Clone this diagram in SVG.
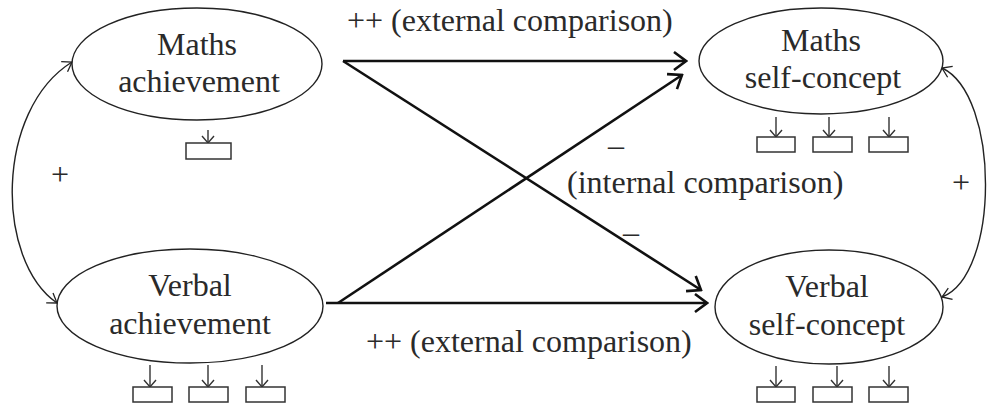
<svg xmlns="http://www.w3.org/2000/svg" width="987" height="407" viewBox="0 0 987 407">
  <defs>
    <marker id="big" viewBox="-14 -11 16 22" refX="0" refY="0" markerWidth="16" markerHeight="22" markerUnits="userSpaceOnUse" orient="auto">
      <path d="M-12,-9 L0,0 L-12,9" fill="none" stroke="#111" stroke-width="2.6" stroke-linejoin="miter"/>
    </marker>
    <marker id="thin" viewBox="-12 -8 14 16" refX="0" refY="0" markerWidth="14" markerHeight="16" markerUnits="userSpaceOnUse" orient="auto-start-reverse">
      <path d="M-9,-6 L0,0 L-9,6" fill="none" stroke="#222" stroke-width="1.3"/>
    </marker>
    <marker id="small" viewBox="-10 -8 12 16" refX="0" refY="0" markerWidth="12" markerHeight="16" markerUnits="userSpaceOnUse" orient="auto">
      <path d="M-7,-6 L0,0 L-7,6" fill="none" stroke="#333" stroke-width="1.4"/>
    </marker>
  </defs>
  <style>
    .ell { fill: #fff; stroke: #222; stroke-width: 1.4; }
    .box { fill: #fff; stroke: #333; stroke-width: 1.5; }
    .txt { font-family: "Liberation Serif", "Times New Roman", serif; font-size: 32px; fill: #2a2a2a; }
    .mid { text-anchor: middle; }
    .main { fill: none; stroke: #111; stroke-width: 2.6; marker-end: url(#big); }
    .curve { fill: none; stroke: #222; stroke-width: 1.4; marker-start: url(#thin); marker-end: url(#thin); }
    .ind { fill: none; stroke: #333; stroke-width: 1.4; marker-end: url(#small); }
  </style>
  <rect width="987" height="407" fill="#fff"/>

  <g id="connectors">
    <path class="main" d="M343,61 L686,61"/>
    <path class="main" d="M343,61 L701,290"/>
    <path class="main" d="M338,303 L682,75"/>
    <path class="main" d="M326,303 L707,303"/>
    <path class="curve" d="M72,62 C-5,110 -5,260 57,303"/>
    <path class="curve" d="M942,68 C1000,95 1000,275 942,297"/>
  </g>

  <g id="labels">
    <text class="txt" x="347" y="31">++ (external comparison)</text>
    <text class="txt" x="366" y="352">++ (external comparison)</text>
    <text class="txt" x="567" y="193">(internal comparison)</text>
    <text class="txt" x="608" y="156">–</text>
    <text class="txt" x="623" y="243">–</text>
    <text class="txt mid" x="60" y="185">+</text>
    <text class="txt mid" x="961" y="193">+</text>
  </g>

  <g id="maths-achievement">
    <ellipse class="ell" cx="197" cy="64" rx="125" ry="56"/>
    <text class="txt mid" x="197" y="55">Maths</text>
    <text class="txt mid" x="199" y="92">achievement</text>
    <path class="ind" d="M208,130 L208,143"/>
    <rect class="box" x="186" y="143" width="45" height="16"/>
  </g>

  <g id="verbal-achievement">
    <ellipse class="ell" cx="190" cy="306" rx="133" ry="57"/>
    <text class="txt mid" x="190" y="296">Verbal</text>
    <text class="txt mid" x="190" y="334">achievement</text>
    <path class="ind" d="M150,365 L150,387"/>
    <path class="ind" d="M208,365 L208,387"/>
    <path class="ind" d="M262,365 L262,387"/>
    <rect class="box" x="133" y="387" width="39" height="15"/>
    <rect class="box" x="189" y="387" width="39" height="15"/>
    <rect class="box" x="246" y="387" width="39" height="15"/>
  </g>

  <g id="maths-self-concept">
    <ellipse class="ell" cx="821" cy="61" rx="122" ry="53"/>
    <text class="txt mid" x="821" y="51">Maths</text>
    <text class="txt mid" x="823" y="88">self-concept</text>
    <path class="ind" d="M776,117 L776,137"/>
    <path class="ind" d="M829,117 L829,137"/>
    <path class="ind" d="M889,117 L889,137"/>
    <rect class="box" x="757" y="137" width="38" height="15"/>
    <rect class="box" x="813" y="137" width="39" height="15"/>
    <rect class="box" x="869" y="137" width="39" height="15"/>
  </g>

  <g id="verbal-self-concept">
    <ellipse class="ell" cx="829" cy="307" rx="114" ry="57"/>
    <text class="txt mid" x="827" y="297">Verbal</text>
    <text class="txt mid" x="827" y="335">self-concept</text>
    <path class="ind" d="M776,366 L776,387"/>
    <path class="ind" d="M837,366 L837,387"/>
    <path class="ind" d="M889,366 L889,387"/>
    <rect class="box" x="757" y="387" width="38" height="15"/>
    <rect class="box" x="813" y="387" width="39" height="15"/>
    <rect class="box" x="869" y="387" width="39" height="15"/>
  </g>
</svg>
